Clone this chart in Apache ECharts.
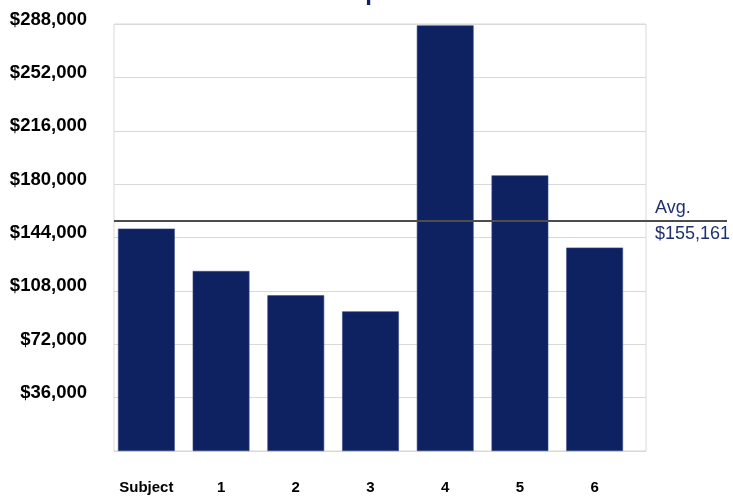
<!DOCTYPE html>
<html>
<head>
<meta charset="utf-8">
<script src="https://cdn.jsdelivr.net/npm/echarts@6/dist/echarts.min.js"></script>
<style>
  html, body { margin: 0; padding: 0; background: #ffffff; }
  #chart { width: 733px; height: 497px; }
</style>
</head>
<body>
<div id="chart"></div>
<script>
// Sale prices: the subject property and six comparables
const categories = ['Subject', '1', '2', '3', '4', '5', '6'];
const prices = [150000, 121400, 105000, 94200, 287100, 185900, 137200];
const averagePrice = 155161;
const yTicks = { min: 0, max: 288000, interval: 36000 };
const titleText = 'Comparables';

const NAVY = '#0e2160';
const FONT = 'Liberation Sans, Arial, sans-serif';
const money = v => '$' + Math.round(v).toLocaleString('en-US');

const chart = echarts.init(document.getElementById('chart'), null, { renderer: 'canvas' });

const plotTop = 24, plotHeight = 427;
const hiddenValueX = { type: 'value', show: false, min: 0, max: 1 };
const hiddenY = { type: 'value', show: false, min: yTicks.min, max: yTicks.max };

chart.setOption({
  animation: false,
  backgroundColor: '#ffffff',
  title: {
    text: titleText,
    left: 307,
    top: -24,
    textStyle: { color: NAVY, fontFamily: FONT, fontWeight: 'bold', fontSize: 24 }
  },
  grid: [
    // frame with value gridlines
    { left: 114, right: 87, top: plotTop, height: plotHeight, show: true, borderColor: '#d9d9d9', borderWidth: 1 },
    // bars
    { left: 109, width: 523, top: plotTop, height: plotHeight },
    // average line, running past the frame
    { left: 114, right: 6, top: plotTop, height: plotHeight },
    // average captions
    { left: 655, right: 0, top: plotTop, height: plotHeight }
  ],
  xAxis: [
    Object.assign({ gridIndex: 0 }, hiddenValueX),
    {
      gridIndex: 1,
      type: 'category',
      data: categories,
      axisLine: { show: false },
      axisTick: { show: false },
      axisLabel: { color: '#000', fontFamily: FONT, fontWeight: 'bold', fontSize: 15, margin: 29 }
    },
    Object.assign({ gridIndex: 2 }, hiddenValueX),
    Object.assign({ gridIndex: 3 }, hiddenValueX)
  ],
  yAxis: [
    {
      gridIndex: 0,
      type: 'value',
      min: yTicks.min,
      max: yTicks.max,
      interval: yTicks.interval,
      axisLine: { show: false },
      axisTick: { show: false },
      splitLine: { lineStyle: { color: '#d9d9d9', width: 1 } },
      axisLabel: {
        color: '#000', fontFamily: FONT, fontWeight: 'bold', fontSize: 18.5, margin: 27,
        verticalAlign: 'bottom',
        lineHeight: 9,
        formatter: v => v === 0 ? '' : money(v)
      }
    },
    Object.assign({ gridIndex: 1 }, hiddenY),
    Object.assign({ gridIndex: 2 }, hiddenY),
    Object.assign({ gridIndex: 3 }, hiddenY)
  ],
  series: [
    {
      type: 'bar',
      xAxisIndex: 1,
      yAxisIndex: 1,
      data: prices,
      barWidth: '76%',
      itemStyle: { color: NAVY, borderColor: '#3b4c85', borderWidth: 0.6 }
    },
    {
      type: 'line',
      xAxisIndex: 2,
      yAxisIndex: 2,
      data: [],
      markLine: {
        silent: true,
        symbol: 'none',
        animation: false,
        lineStyle: { color: '#4d4d4d', width: 2, type: 'solid' },
        label: { show: false },
        data: [{ yAxis: averagePrice }]
      }
    },
    {
      type: 'line',
      xAxisIndex: 3,
      yAxisIndex: 3,
      data: [],
      markLine: {
        silent: true,
        symbol: 'none',
        animation: false,
        lineStyle: { color: 'rgba(0,0,0,0)', width: 0 },
        label: { show: true, color: '#1f3170', fontFamily: FONT, fontSize: 18, distance: [0, 4] },
        data: [
          { yAxis: averagePrice, label: { position: 'insideStartTop', formatter: 'Avg.' } },
          { yAxis: averagePrice, label: { position: 'insideStartBottom', formatter: money(averagePrice) } }
        ]
      }
    }
  ]
});
</script>
</body>
</html>
